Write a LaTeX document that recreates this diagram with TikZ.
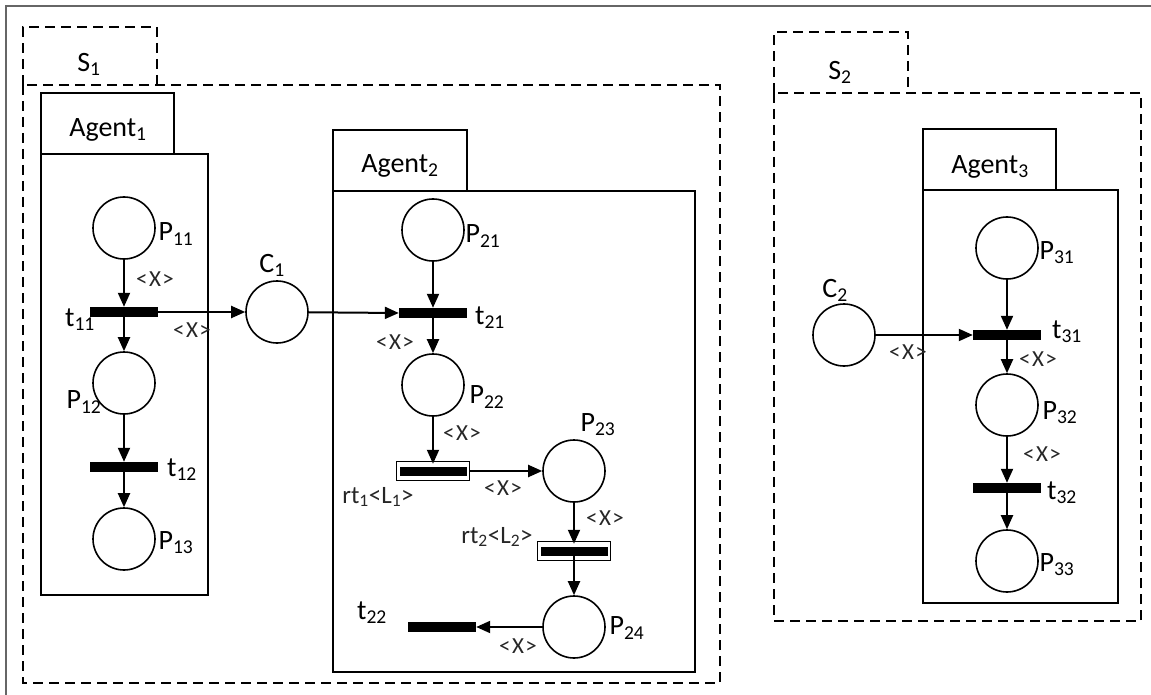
\documentclass[tikz,border=0pt]{standalone}
\usepackage{fontspec}
\setmainfont{Carlito}
\usetikzlibrary{arrows.meta}
\newcommand{\arcx}{<\kern1.5pt X\kern1.5pt>}

\begin{document}
\begin{tikzpicture}[x=1pt, y=-1pt, >={Triangle[length=14pt,width=12pt]},
  place/.style={circle, draw, line width=1.6pt, minimum size=62pt, inner sep=0pt},
  bar/.style={fill=black, minimum width=68pt, minimum height=10pt, inner sep=0pt},
  rbar/.style={draw, line width=1.5pt, minimum width=73pt, minimum height=19pt, inner sep=0pt,
    path picture={\fill ([shift={(3pt,-5pt)}]path picture bounding box.north west) rectangle ([shift={(-3pt,5pt)}]path picture bounding box.south east);}},
  flow/.style={->, line width=2pt},
  agentbox/.style={line width=2.2pt},
  sysbox/.style={line width=2.6pt, dash pattern=on 10pt off 6pt},
  lbl/.style={font=\fontsize{28}{30}\selectfont, inner sep=0pt},
  ann/.style={font=\fontsize{23}{25}\selectfont, inner sep=0pt, text=black!85}]
\useasboundingbox (0,0) rectangle (1151,695);
% frame
\draw[line width=1.8pt, black!60] (6,695) -- (6,6) -- (1151,6);
% systems
\draw[sysbox] (23,85) -- (23,27) -- (157,27) -- (157,85);
\draw[sysbox] (23,85) rectangle (720,683);
\node[lbl] (lS1) at (89,64) {S\textsubscript{1}};
\draw[sysbox] (774,93) -- (774,32) -- (908,32) -- (908,93);
\draw[sysbox] (774,93) rectangle (1141,621);
\node[lbl] (lS2) at (840,72) {S\textsubscript{2}};
% agents
\draw[agentbox] (41,93) rectangle (174,154);
\draw[agentbox] (41,154) rectangle (208,595);
\node[lbl] (lA1) at (108,130) {Agent\textsubscript{1}};
\draw[agentbox] (333,130) rectangle (467,191);
\draw[agentbox] (333,191) rectangle (695,672);
\node[lbl] (lA2) at (400,166) {Agent\textsubscript{2}};
\draw[agentbox] (923,129) rectangle (1056,190);
\draw[agentbox] (923,190) rectangle (1118,603);
\node[lbl] (lA3) at (990,167) {Agent\textsubscript{3}};
% agent 1 net
\node[place] (P11) at (124,228) {};
\node[bar] (t11) at (124,312) {};
\node[place] (P12) at (124,383) {};
\node[bar] (t12) at (124,467) {};
\node[place] (P13) at (124,539) {};
\node[lbl] (lP11) at (176,234) {P\textsubscript{11}};
\node[lbl] (lt11) at (80,320) {t\textsubscript{11}};
\node[lbl] (lP12) at (84,402) {P\textsubscript{12}};
\node[lbl] (lt12) at (182,470) {t\textsubscript{12}};
\node[lbl] (lP13) at (176,543) {P\textsubscript{13}};
\node[ann] (x11) at (155,279) {\arcx};
\node[ann] (x12) at (192,330) {\arcx};
% channel 1
\node[place] (C1) at (277,312) {};
\node[lbl] (lC1) at (272,265) {C\textsubscript{1}};
% agent 2 net
\node[place] (P21) at (433,230) {};
\node[bar] (t21) at (433,313) {};
\node[place] (P22) at (433,385) {};
\node[rbar] (rt1) at (433,471) {};
\node[place] (P23) at (574,471) {};
\node[rbar] (rt2) at (574,551) {};
\node[place] (P24) at (574,627) {};
\node[bar] (t22) at (442,627) {};
\node[lbl] (lP21) at (483,236) {P\textsubscript{21}};
\node[lbl] (lt21) at (490,318) {t\textsubscript{21}};
\node[lbl] (lP22) at (487,397) {P\textsubscript{22}};
\node[lbl] (lP23) at (598,425) {P\textsubscript{23}};
\node[lbl] (lP24) at (627,628) {P\textsubscript{24}};
\node[lbl] (lt22) at (372,613) {t\textsubscript{22}};
\node[ann, font=\fontsize{25}{27}\selectfont] (lrt1) at (378,497) {rt\textsubscript{1}<L\textsubscript{1}>};
\node[ann, font=\fontsize{25}{27}\selectfont] (lrt2) at (497,537) {rt\textsubscript{2}<L\textsubscript{2}>};
\node[ann] (x21) at (395,342) {\arcx};
\node[ann] (x22) at (462,433) {\arcx};
\node[ann] (x23) at (503,488) {\arcx};
\node[ann] (x24) at (605,518) {\arcx};
\node[ann] (x25) at (518,646) {\arcx};
% channel 2
\node[place] (C2) at (844,335) {};
\node[lbl] (lC2) at (835,290) {C\textsubscript{2}};
% agent 3 net
\node[place] (P31) at (1007,248) {};
\node[bar] (t31) at (1007,335) {};
\node[place] (P32) at (1007,405) {};
\node[bar] (t32) at (1007,488) {};
\node[place] (P33) at (1007,561) {};
\node[lbl] (lP31) at (1057,253) {P\textsubscript{31}};
\node[lbl] (lt31) at (1067,332) {t\textsubscript{31}};
\node[lbl] (lP32) at (1060,413) {P\textsubscript{32}};
\node[lbl] (lt32) at (1062,493) {t\textsubscript{32}};
\node[lbl] (lP33) at (1057,565) {P\textsubscript{33}};
\node[ann] (x31) at (908,352) {\arcx};
\node[ann] (x32) at (1038,359) {\arcx};
\node[ann] (x33) at (1042,454) {\arcx};
% arcs
\draw[flow] (P11) -- (t11.north);
\draw[flow] (t11.center) -- (P12);
\draw[flow] (t11.east) -- (C1);
\draw[flow] (P12) -- (t12.north);
\draw[flow] (t12.center) -- (P13);
\draw[flow] (C1) -- (t21.west);
\draw[flow] (P21) -- (t21.north);
\draw[flow] (t21.center) -- (P22);
\draw[flow] (P22) -- ([yshift=-3pt]rt1.north);
\draw[flow] (rt1.east) -- (P23);
\draw[flow] (P23) -- ([yshift=-3pt]rt2.north);
\draw[flow] (rt2.center) -- (P24);
\draw[flow] (P24) -- (t22.east);
\draw[flow] (C2) -- (t31.west);
\draw[flow] (P31) -- (t31.north);
\draw[flow] (t31.center) -- (P32);
\draw[flow] (P32) -- (t32.north);
\draw[flow] (t32.center) -- (P33);
\end{tikzpicture}
\end{document}
